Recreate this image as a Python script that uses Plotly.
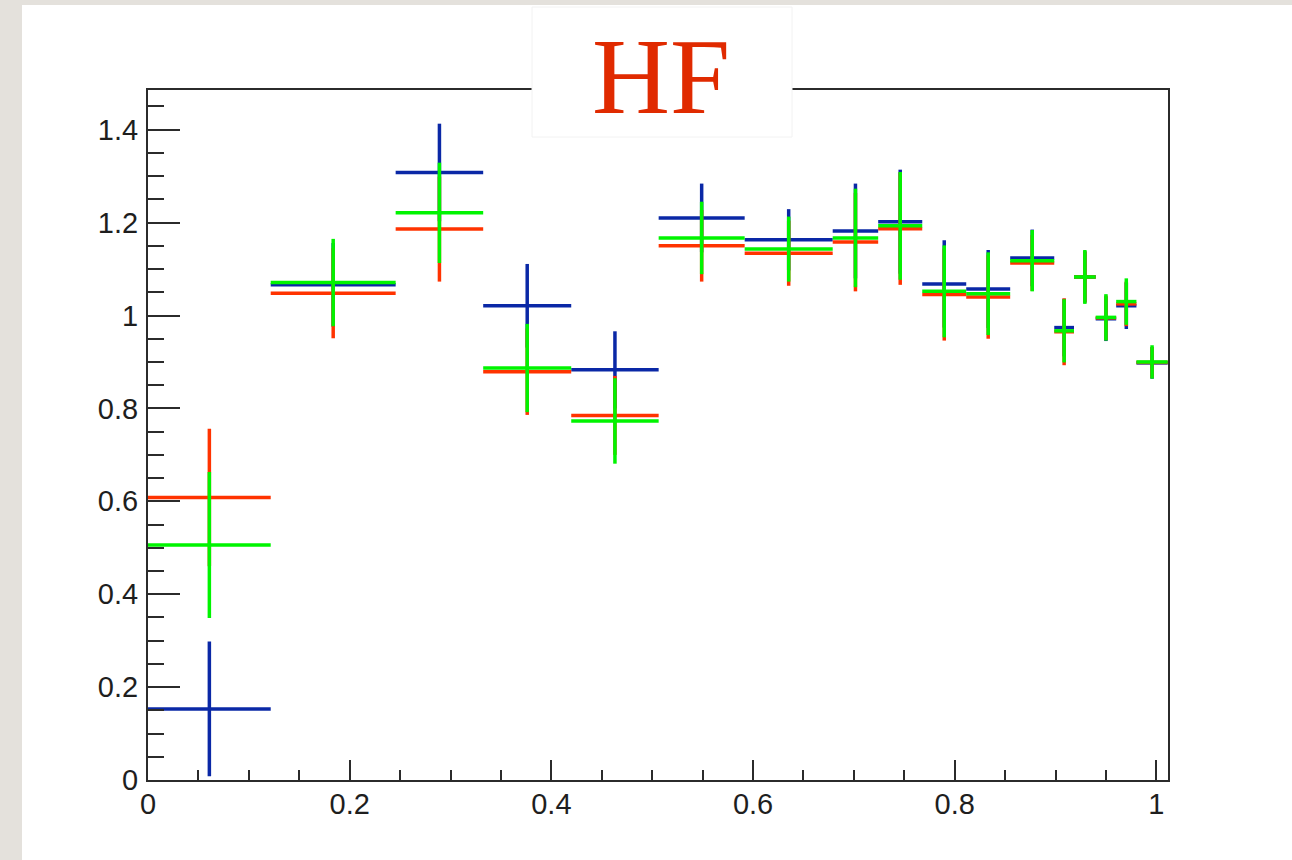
import plotly.graph_objects as go

# ---- data ----
bin_edges = [0.0, 0.1217, 0.2456, 0.3324, 0.4197, 0.5064, 0.5917, 0.6790, 0.7241,
             0.7678, 0.8114, 0.8550, 0.8987, 0.9183, 0.9398, 0.9601, 0.9802, 1.0112]

blue_vals = [0.153, 1.066, 1.308, 1.021, 0.883, 1.210, 1.163, 1.182, 1.202,
             1.068, 1.057, 1.124, 0.974, 1.083, 0.993, 1.021, 0.898]
blue_errs = [0.145, 0.090, 0.105, 0.090, 0.083, 0.074, 0.066, 0.102, 0.112,
             0.094, 0.084, 0.061, 0.062, 0.055, 0.048, 0.050, 0.034]

red_vals = [0.608, 1.048, 1.186, 0.879, 0.785, 1.150, 1.134, 1.158, 1.187,
            1.045, 1.040, 1.113, 0.965, 1.083, 0.995, 1.025, 0.899]
red_errs = [0.148, 0.097, 0.113, 0.093, 0.085, 0.077, 0.070, 0.106, 0.121,
            0.099, 0.090, 0.060, 0.072, 0.055, 0.048, 0.048, 0.033]

green_vals = [0.506, 1.071, 1.221, 0.887, 0.773, 1.167, 1.143, 1.167, 1.193,
              1.052, 1.047, 1.118, 0.967, 1.083, 0.996, 1.030, 0.900]
green_errs = [0.157, 0.094, 0.108, 0.095, 0.092, 0.078, 0.070, 0.106, 0.116,
              0.099, 0.089, 0.066, 0.068, 0.058, 0.050, 0.050, 0.036]

title_text = "HF"

# ---- derived bin geometry ----
centers = [(a + b) / 2 for a, b in zip(bin_edges[:-1], bin_edges[1:])]
half_w = [(b - a) / 2 for a, b in zip(bin_edges[:-1], bin_edges[1:])]

series = [
    ("blue", blue_vals, blue_errs, "#0a28a6"),
    ("red", red_vals, red_errs, "#ff3300"),
    ("green", green_vals, green_errs, "#00f400"),
]

fig = go.Figure()
for name, vals, errs, col in series:
    fig.add_trace(go.Scatter(
        x=centers, y=vals, mode="markers", name=name, showlegend=False,
        marker=dict(size=1, color=col),
        error_x=dict(type="data", array=half_w, symmetric=True, color=col, thickness=3.5, width=0),
        error_y=dict(type="data", array=errs, symmetric=True, color=col, thickness=3.5, width=0),
    ))

W, H = 1292, 860
L, R, T, B = 148, 124, 90, 80
pw, ph = W - L - R, H - T - B

def px_x(p):
    return (p - L) / pw

def px_y(p):
    return (H - B - p) / ph

axis_common = dict(
    showline=True, linecolor="#2b2b2b", linewidth=2, mirror=True,
    showgrid=False, zeroline=False, ticks="inside", tickcolor="#2b2b2b", tickwidth=2,
    tickfont=dict(family="Liberation Sans, Arial", size=29, color="#1e1e1e"),
)

fig.update_layout(
    width=W, height=H,
    margin=dict(l=L, r=R, t=T, b=B),
    paper_bgcolor="#e4e1dc",
    plot_bgcolor="white",
    xaxis=dict(range=[0, 1.0115], dtick=0.2, tick0=0, ticklen=20, ticklabelstandoff=-3,
               minor=dict(dtick=0.05, ticklen=10, tickcolor="#2b2b2b", tickwidth=2, ticks="inside"),
               **axis_common),
    yaxis=dict(range=[0, 1.4855], dtick=0.2, tick0=0, ticklen=32, ticklabelstandoff=2,
               minor=dict(dtick=0.05, ticklen=16, tickcolor="#2b2b2b", tickwidth=2, ticks="inside"),
               **axis_common),
    shapes=[
        dict(type="rect", xref="paper", yref="paper", layer="below",
             x0=px_x(22), x1=px_x(1300), y0=px_y(870), y1=px_y(5),
             fillcolor="white", line=dict(width=0)),
        dict(type="rect", xref="paper", yref="paper", layer="above",
             x0=px_x(532), x1=px_x(792), y0=px_y(137), y1=px_y(7),
             fillcolor="white", line=dict(color="#f2f2f2", width=1)),
    ],
    annotations=[
        dict(text=title_text, xref="paper", yref="paper", x=px_x(660.5), y=px_y(77),
             xanchor="center", yanchor="middle", showarrow=False,
             font=dict(family="Liberation Serif, Times New Roman", size=108, color="#e02a00")),
    ],
)

fig.write_html("out.html")
